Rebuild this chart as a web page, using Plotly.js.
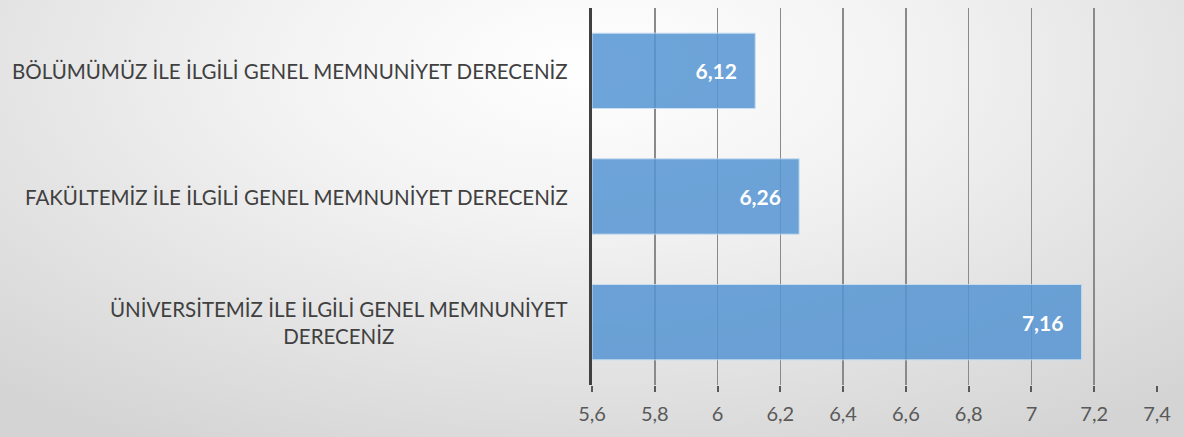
<!DOCTYPE html>
<html><head><meta charset="utf-8">
<script src="https://cdn.plot.ly/plotly-3.0.1.min.js"></script>
<style>
html,body{margin:0;padding:0;}
body{width:1184px;height:437px;background:radial-gradient(ellipse 75% 100% at 50% 15%, #ffffff 0%, #f3f3f3 35%, #d4d4d4 100%);}
#chart{width:1184px;height:437px;}
</style></head>
<body><div id="chart"></div>
<script>
const categories = ["ÜNİVERSİTEMİZ İLE İLGİLİ GENEL MEMNUNİYET<br>DERECENİZ", "FAKÜLTEMİZ İLE İLGİLİ GENEL MEMNUNİYET DERECENİZ", "BÖLÜMÜMÜZ İLE İLGİLİ GENEL MEMNUNİYET DERECENİZ"];
const values = [7.16, 6.26, 6.12];
const tickVals = [5.6, 5.8, 6, 6.2, 6.4, 6.6, 6.8, 7, 7.2, 7.4];
const axisStart = 5.6;

const FONT = "Lato, 'Open Sans', sans-serif";
const trace = {
  type: 'bar', orientation: 'h',
  y: categories.map((c,i)=>i),
  x: values.map(v => v - axisStart),
  base: axisStart,
  marker: {color: '#5595d3', opacity: 0.85, line: {color: '#c4dbf0', width: 1}},
  width: 0.6,
  text: values.map(v => v.toFixed(2).replace('.', ',') + '\u00a0\u00a0\u00a0'),
  textposition: 'inside', insidetextanchor: 'end',
  textfont: {family: FONT, size: 21, color: '#ffffff', weight: 'bold'},
  hoverinfo: 'none', cliponaxis: false
};

const annotations = categories.map((c,i)=>({
  xref: 'paper', yref: 'y', x: 0, y: i, xshift: -22,
  xanchor: 'right', yanchor: 'middle', align: 'center',
  text: c, showarrow: false,
  font: {family: FONT, size: 20.5, color: '#404040'}
}));

const layout = {
  width: 1184, height: 437,
  margin: {l: 592, r: 27, t: 8, b: 52},
  paper_bgcolor: 'rgba(0,0,0,0)', plot_bgcolor: 'rgba(0,0,0,0)',
  separators: ',.',
  showlegend: false,
  xaxis: {
    range: [5.6, 7.4], tickvals: tickVals,
    ticktext: tickVals.map(v => String(v).replace('.', ',')),
    showgrid: true, gridcolor: '#8a8a8a', gridwidth: 1.5,
    zeroline: false, showline: false,
    ticks: 'outside', ticklen: 6, tickwidth: 2, tickcolor: '#595959',
    tickfont: {family: FONT, size: 20, color: '#595959'},
    ticklabelstandoff: 5
  },
  yaxis: {
    range: [-0.5, 2.5], showticklabels: false, showgrid: false,
    zeroline: false, showline: true, linecolor: '#404040', linewidth: 3,
    ticks: ''
  },
  annotations: annotations
};
Plotly.newPlot('chart', [trace], layout, {displayModeBar: false, staticPlot: true});
</script></body></html>
